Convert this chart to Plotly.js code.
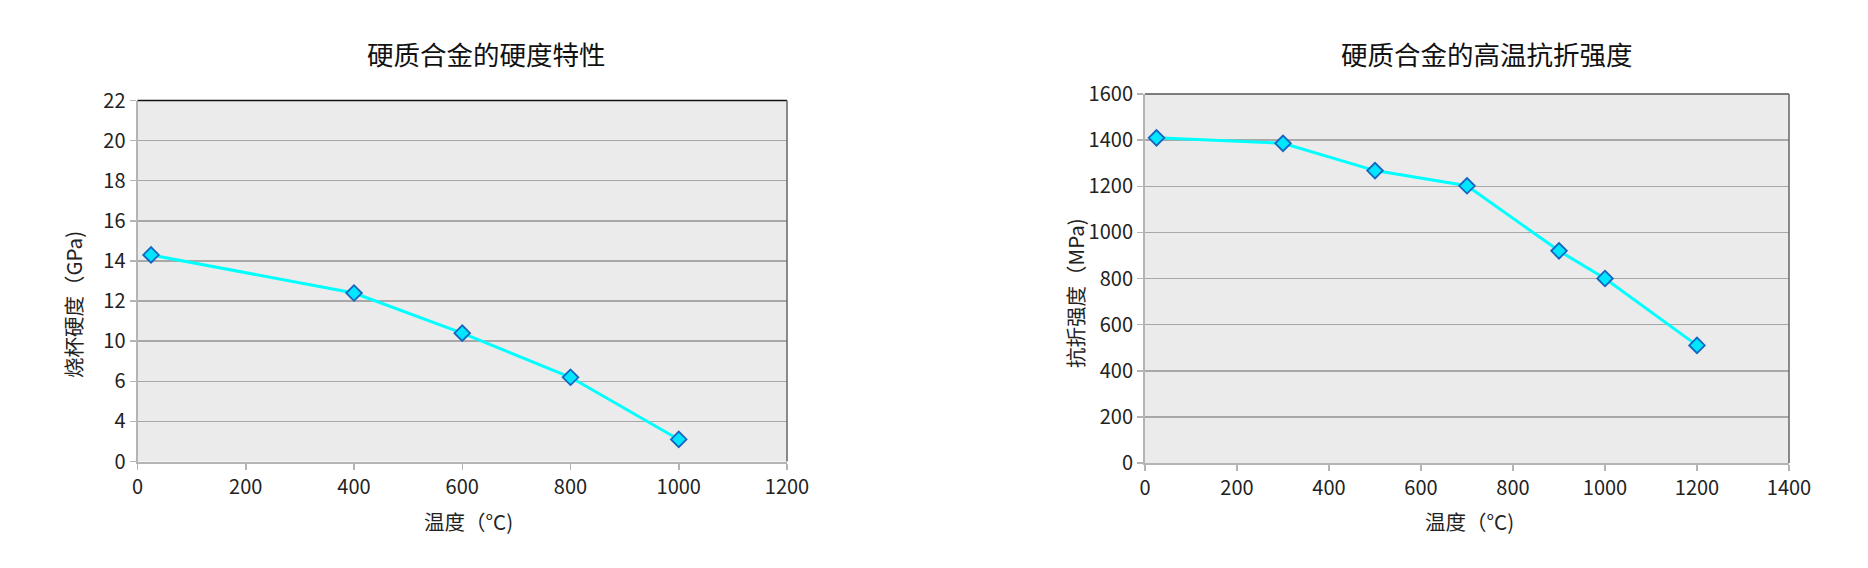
<!DOCTYPE html>
<html>
<head>
<meta charset="utf-8">
<script src="https://cdn.plot.ly/plotly-3.0.1.min.js"></script>
<style>html,body{margin:0;padding:0;background:#fff;}#chart{width:1868px;height:568px;}</style>
</head>
<body>
<div id="chart"></div>
<script>
// ---- Data ----
// Left chart: hardness vs temperature (values in the chart's plotted scale)
const hardTemp = [25, 400, 600, 800, 1000];
const hardValue = [14.3, 12.4, 10.4, 8.2, 5.1];
const hardTickVals = [4, 6, 8, 10, 12, 14, 16, 18, 20, 22];
const hardTickText = ['0', '4', '6', '10', '12', '14', '16', '18', '20', '22'];

// Right chart: high-temperature transverse rupture strength
const strTemp = [25, 300, 500, 700, 900, 1000, 1200];
const strValue = [1410, 1386, 1268, 1202, 920, 800, 510];

// Texts
const titleLeft = '硬质合金的硬度特性';
const titleRight = '硬质合金的高温抗折强度';
const yTitleLeft = '烧杯硬度（GPa)';
const yTitleRight = '抗折强度（MPa)';
const xTitle = '温度（°C)';

const FONT = '"Noto Sans CJK SC", "Noto Sans", sans-serif';
const lineStyle = {color: '#00FFFF', width: 3};
const markerStyle = {symbol: 'diamond', size: 12, color: '#00E6FF', line: {color: '#1565C0', width: 1.8}};

const traces = [
  {x: hardTemp, y: hardValue, type: 'scatter', mode: 'lines+markers', xaxis: 'x', yaxis: 'y',
   line: lineStyle, marker: markerStyle, showlegend: false, hoverinfo: 'x+y'},
  {x: strTemp, y: strValue, type: 'scatter', mode: 'lines+markers', xaxis: 'x2', yaxis: 'y2',
   line: lineStyle, marker: markerStyle, showlegend: false, hoverinfo: 'x+y'}
];

const W = 1868, H = 568;
const L1 = [137.5 / W, 787 / W], V1 = [1 - 461.5 / H, 1 - 100.5 / H];
const L2 = [1145 / W, 1789 / W], V2 = [1 - 463 / H, 1 - 94 / H];

const axisCommon = {
  showgrid: true, gridcolor: '#a8a8a8', gridwidth: 1.5,
  showline: true, linecolor: '#b4b4b4', linewidth: 2,
  ticks: 'outside', ticklen: 6, tickcolor: '#b4b4b4', tickwidth: 1.5,
  tickfont: {family: FONT, size: 20, color: '#222'}, zeroline: false, fixedrange: true
};

const layout = {
  width: W, height: H,
  margin: {l: 0, r: 0, t: 0, b: 0},
  paper_bgcolor: '#ffffff', plot_bgcolor: '#ebebeb',
  font: {family: FONT, color: '#222'},
  xaxis: Object.assign({}, axisCommon, {domain: L1, anchor: 'y', range: [0, 1200], tickvals: [0, 200, 400, 600, 800, 1000, 1200], showgrid: false}),
  yaxis: Object.assign({}, axisCommon, {domain: V1, anchor: 'x', range: [4, 22], tickvals: hardTickVals, ticktext: hardTickText}),
  xaxis2: Object.assign({}, axisCommon, {domain: L2, anchor: 'y2', range: [0, 1400], dtick: 200, showgrid: false}),
  yaxis2: Object.assign({}, axisCommon, {domain: V2, anchor: 'x2', range: [0, 1600], dtick: 200}),
  shapes: [
    {type: 'line', xref: 'x domain', yref: 'y domain', x0: 0, x1: 1, y0: 1, y1: 1, line: {color: '#111', width: 1.5}},
    {type: 'line', xref: 'x domain', yref: 'y domain', x0: 1, x1: 1, y0: 0, y1: 1, line: {color: '#666', width: 1.5}},
    {type: 'line', xref: 'x2 domain', yref: 'y2 domain', x0: 0, x1: 1, y0: 1, y1: 1, line: {color: '#555', width: 1.5}},
    {type: 'line', xref: 'x2 domain', yref: 'y2 domain', x0: 1, x1: 1, y0: 0, y1: 1, line: {color: '#666', width: 1.5}}
  ],
  annotations: [
    {text: titleLeft, xref: 'paper', yref: 'paper', x: 486 / W, y: 1 - 54 / H, showarrow: false, xanchor: 'center', yanchor: 'middle', font: {family: FONT, size: 26.5, color: '#111'}},
    {text: titleRight, xref: 'paper', yref: 'paper', x: 1487 / W, y: 1 - 54 / H, showarrow: false, xanchor: 'center', yanchor: 'middle', font: {family: FONT, size: 26.5, color: '#111'}},
    {text: yTitleLeft, xref: 'paper', yref: 'paper', x: 73 / W, y: 1 - 305 / H, showarrow: false, textangle: -90, xanchor: 'center', yanchor: 'middle', font: {family: FONT, size: 20.5, color: '#222'}},
    {text: yTitleRight, xref: 'paper', yref: 'paper', x: 1075 / W, y: 1 - 293 / H, showarrow: false, textangle: -90, xanchor: 'center', yanchor: 'middle', font: {family: FONT, size: 20.5, color: '#222'}},
    {text: xTitle, xref: 'paper', yref: 'paper', x: 468 / W, y: 1 - 521 / H, showarrow: false, xanchor: 'center', yanchor: 'middle', font: {family: FONT, size: 20.5, color: '#222'}},
    {text: xTitle, xref: 'paper', yref: 'paper', x: 1469 / W, y: 1 - 521 / H, showarrow: false, xanchor: 'center', yanchor: 'middle', font: {family: FONT, size: 20.5, color: '#222'}}
  ]
};

Plotly.newPlot('chart', traces, layout, {displayModeBar: false, staticPlot: true});
</script>
</body>
</html>
